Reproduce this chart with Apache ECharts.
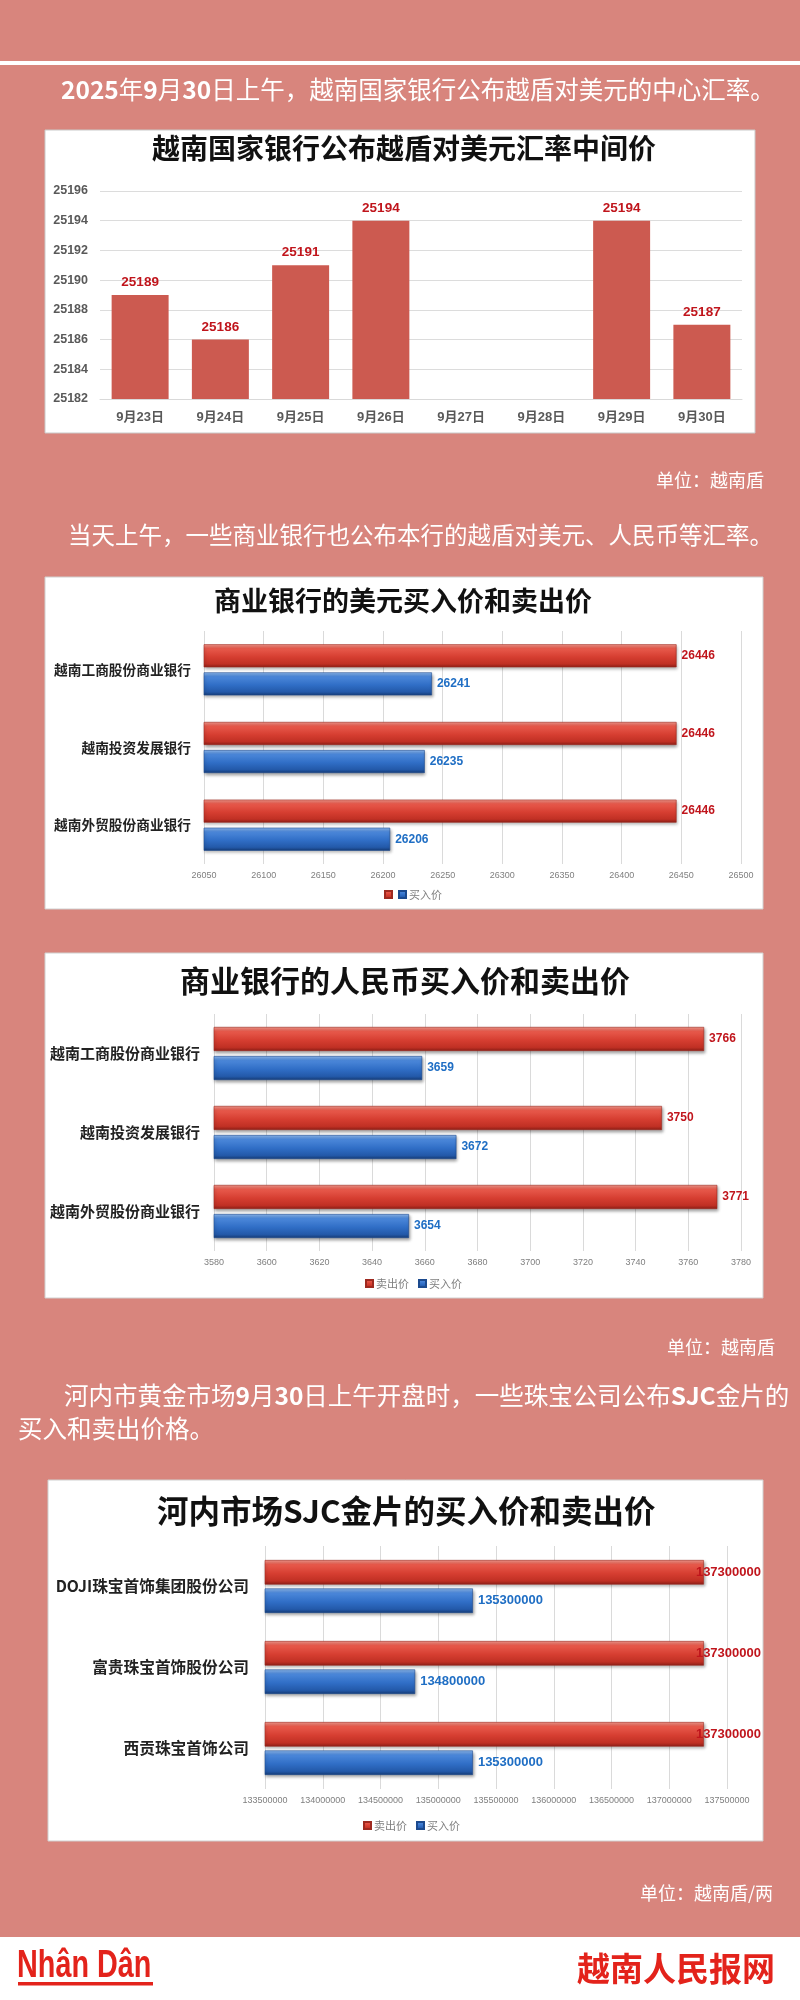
<!DOCTYPE html>
<html>
<head>
<meta charset="utf-8">
<script src="https://cdn.jsdelivr.net/npm/echarts@6/dist/echarts.min.js"></script>
<style>
html,body{margin:0;padding:0;background:#D8857D;}
#main{width:800px;height:2000px;}
</style>
</head>
<body>
<div id="main"></div>
<script>
// ---------------- data ----------------
const dates = ['9月23日', '9月24日', '9月25日', '9月26日', '9月27日', '9月28日', '9月29日', '9月30日'];
const midRate = [25189, 25186, 25191, 25194, null, null, 25194, 25187];
const midAxis = [25182, 25196, 2];

const banks = ['越南工商股份商业银行', '越南投资发展银行', '越南外贸股份商业银行'];
const usdSell = [26446, 26446, 26446];
const usdBuy = [26241, 26235, 26206];
const usdAxis = [26050, 26500, 50];

const cnySell = [3766, 3750, 3771];
const cnyBuy = [3659, 3672, 3654];
const cnyAxis = [3580, 3780, 20];

const jewelers = ['DOJI珠宝首饰集团股份公司', '富贵珠宝首饰股份公司', '西贡珠宝首饰公司'];
const goldSell = [137300000, 137300000, 137300000];
const goldBuy = [135300000, 134800000, 135300000];
const goldAxis = [133500000, 137500000, 500000];

const seriesNames = ['卖出价', '买入价'];
const chartTitles = ['越南国家银行公布越盾对美元汇率中间价', '商业银行的美元买入价和卖出价', '商业银行的人民币买入价和卖出价', '河内市场SJC金片的买入价和卖出价'];
const unitTexts = ['单位：越南盾', '单位：越南盾', '单位：越南盾/两'];

// ---------------- styles ----------------
const CJK = '"Noto Sans CJK SC", "Noto Sans", sans-serif';
const NUM = '"Liberation Sans", Arial, "Noto Sans CJK SC", sans-serif';
const PINK = '#D8857D';
const plain = (v) => String(v);

function redGrad() {
  return new echarts.graphic.LinearGradient(0, 0, 0, 1, [
    {offset: 0, color: '#F39A8E'}, {offset: 0.18, color: '#E85A4C'},
    {offset: 0.55, color: '#D63E31'}, {offset: 0.85, color: '#C03024'}, {offset: 1, color: '#8C1E16'}
  ]);
}
function blueGrad() {
  return new echarts.graphic.LinearGradient(0, 0, 0, 1, [
    {offset: 0, color: '#8FBAF0'}, {offset: 0.18, color: '#4C88DA'},
    {offset: 0.55, color: '#306EC6'}, {offset: 0.85, color: '#2359A9'}, {offset: 1, color: '#163C76'}
  ]);
}

function hBarSeries(idx, sell, buy, bw, gap, fs, sellOffset) {
  return [
    {
      name: seriesNames[0], type: 'bar', xAxisIndex: idx, yAxisIndex: idx, data: sell,
      barWidth: bw, barGap: gap,
      itemStyle: {color: redGrad(), borderColor: '#9E2A20', borderWidth: 0.6,
        shadowColor: 'rgba(0,0,0,0.35)', shadowBlur: 3, shadowOffsetY: 2, shadowOffsetX: 1},
      label: {show: true, position: 'right', distance: 5, offset: [sellOffset, 0], color: '#C0151C',
        fontFamily: NUM, fontWeight: 'bold', fontSize: fs, formatter: (p) => plain(p.value)}
    },
    {
      name: seriesNames[1], type: 'bar', xAxisIndex: idx, yAxisIndex: idx, data: buy,
      barWidth: bw, barGap: gap,
      itemStyle: {color: blueGrad(), borderColor: '#1C4A8E', borderWidth: 0.6,
        shadowColor: 'rgba(0,0,0,0.35)', shadowBlur: 3, shadowOffsetY: 2, shadowOffsetX: 1},
      label: {show: true, position: 'right', distance: 5, color: '#1F6EC4',
        fontFamily: NUM, fontWeight: 'bold', fontSize: fs, formatter: (p) => plain(p.value)}
    }
  ];
}

function valueAxis(idx, ax) {
  return {
    type: 'value', gridIndex: idx, min: ax[0], max: ax[1], interval: ax[2],
    axisLine: {show: false}, axisTick: {show: false},
    splitLine: {show: true, lineStyle: {color: '#DADADA', width: 1}},
    axisLabel: {color: '#7F7F7F', fontSize: 9, fontFamily: NUM, margin: 7, formatter: plain}
  };
}
function catAxis(idx, data, fs, margin) {
  return {
    type: 'category', gridIndex: idx, data: data, inverse: true,
    axisLine: {show: false}, axisTick: {show: false},
    axisLabel: {color: '#222', fontSize: fs, fontWeight: 'bold', fontFamily: CJK, margin: margin}
  };
}

function legend(left, top, hideSell) {
  return {
    data: seriesNames, left: left, top: top, itemWidth: 7, itemHeight: 7, itemGap: hideSell ? 5 : 9,
    icon: 'rect', padding: 0,
    textStyle: {color: '#7F7F7F', fontSize: 11, fontFamily: CJK, padding: [0, 0, 0, -2]},
    formatter: function (n) { return (hideSell && n === seriesNames[0]) ? '' : n; }
  };
}

function whiteText(x, y, str, size, align, rich) {
  return {
    type: 'text', x: x, y: y, z: 10,
    style: {text: str, fill: '#FFFFFF', fontSize: size, fontFamily: CJK, align: align || 'left',
      verticalAlign: 'middle', rich: rich || undefined}
  };
}
const boldRich = (size) => ({b: {fontWeight: 'bold', fontSize: size, fill: '#FFFFFF', fontFamily: CJK}, n: {fontSize: size, fill: '#FFFFFF', fontFamily: CJK}});
const titleStyle = (fs) => ({fontSize: fs, fontWeight: 'bold', color: '#111', fontFamily: CJK});

const chart = echarts.init(document.getElementById('main'), null, {renderer: 'canvas'});

const option = {
  backgroundColor: PINK,
  animation: false,
  title: [
    {text: chartTitles[0], left: 152, top: 134, padding: 0, textStyle: titleStyle(28)},
    {text: chartTitles[1], left: 214, top: 587, padding: 0, textStyle: titleStyle(27)},
    {text: chartTitles[2], left: 180, top: 966, padding: 0, textStyle: titleStyle(30)},
    {text: chartTitles[3], left: 157, top: 1495, padding: 0, textStyle: titleStyle(31.5)}
  ],
  legend: [
    legend(384, 889, true),
    legend(365, 1278, false),
    legend(363, 1820, false)
  ],
  grid: [
    {left: 100, top: 191, width: 642, height: 208},
    {left: 204, top: 631, width: 537, height: 233},
    {left: 214, top: 1014, width: 527, height: 237},
    {left: 265, top: 1546, width: 462, height: 243}
  ],
  xAxis: [
    {type: 'category', gridIndex: 0, data: dates,
      axisLine: {show: true, lineStyle: {color: '#D9D9D9'}}, axisTick: {show: false},
      axisLabel: {color: '#595959', fontSize: 13, fontWeight: 'bold', fontFamily: NUM, margin: 12}},
    valueAxis(1, usdAxis),
    valueAxis(2, cnyAxis),
    valueAxis(3, goldAxis)
  ],
  yAxis: [
    {type: 'value', gridIndex: 0, min: midAxis[0], max: midAxis[1], interval: midAxis[2],
      axisLine: {show: false}, axisTick: {show: false},
      splitLine: {lineStyle: {color: '#DCDCDC'}},
      axisLabel: {color: '#595959', fontSize: 12.5, fontWeight: 'bold', fontFamily: NUM, margin: 12, formatter: plain}},
    catAxis(1, banks, 13.7, 13),
    catAxis(2, banks, 15, 14),
    catAxis(3, jewelers, 15.7, 16)
  ],
  series: [
    {type: 'bar', name: '中间价', xAxisIndex: 0, yAxisIndex: 0, data: midRate, barCategoryGap: '29%',
      itemStyle: {color: '#CC5A50'},
      label: {show: true, position: 'top', distance: 6, color: '#C0151C', fontSize: 13.5, fontWeight: 'bold', fontFamily: NUM,
        formatter: (p) => plain(p.value)}},
    ...hBarSeries(1, usdSell, usdBuy, 23, '22%', 12, 0),
    ...hBarSeries(2, cnySell, cnyBuy, 24, '21%', 12, 0),
    ...hBarSeries(3, goldSell, goldBuy, 24.5, '16%', 13, -13)
  ],
  graphic: [
    {type: 'rect', shape: {x: 0, y: 61, width: 800, height: 4}, style: {fill: '#FFFFFF'}, z: 1},
    whiteText(61, 90, '{b|2025}{n|年}{b|9}{n|月}{b|30}{n|日上午，越南国家银行公布越盾对美元的中心汇率。}', 24.5, 'left', boldRich(24.5)),
    {type: 'rect', shape: {x: 45, y: 130, width: 710, height: 303}, style: {fill: '#FFFFFF', stroke: '#C9C9C9', lineWidth: 1}, z: -10},
    whiteText(764, 480, unitTexts[0], 18, 'right'),
    whiteText(68, 535, '当天上午，一些商业银行也公布本行的越盾对美元、人民币等汇率。', 23.5),
    {type: 'rect', shape: {x: 45, y: 577, width: 718, height: 332}, style: {fill: '#FFFFFF', stroke: '#D0D0D0', lineWidth: 1}, z: -10},
    {type: 'rect', shape: {x: 45, y: 953, width: 718, height: 345}, style: {fill: '#FFFFFF', stroke: '#D0D0D0', lineWidth: 1}, z: -10},
    whiteText(775, 1347, unitTexts[1], 18, 'right'),
    whiteText(64, 1396, '{n|河内市黄金市场}{b|9}{n|月}{b|30}{n|日上午开盘时，一些珠宝公司公布}{b|SJC}{n|金片的}', 24.5, 'left', boldRich(24.5)),
    whiteText(18, 1429, '买入和卖出价格。', 24.5),
    {type: 'rect', shape: {x: 48, y: 1480, width: 715, height: 361}, style: {fill: '#FFFFFF', stroke: '#D0D0D0', lineWidth: 1}, z: -10},
    whiteText(773, 1893, unitTexts[2], 18, 'right'),
    {type: 'rect', shape: {x: 0, y: 1937, width: 800, height: 63}, style: {fill: '#FFFFFF'}, z: 1},
    {type: 'text', x: 17, y: 1966, z: 10, scaleX: 0.8, scaleY: 1.08,
      style: {text: 'Nhân Dân', fill: '#E3231B', fontSize: 36, fontWeight: 'bold', fontFamily: NUM, verticalAlign: 'middle'}},
    {type: 'rect', shape: {x: 18, y: 1982, width: 135, height: 3.5}, style: {fill: '#E3231B'}, z: 10},
    {type: 'text', x: 775, y: 1968, z: 10,
      style: {text: '越南人民报网', fill: '#E3231B', fontSize: 33, fontWeight: 'bold', fontFamily: CJK, align: 'right', verticalAlign: 'middle'}}
  ]
};
chart.setOption(option);
</script>
</body>
</html>
